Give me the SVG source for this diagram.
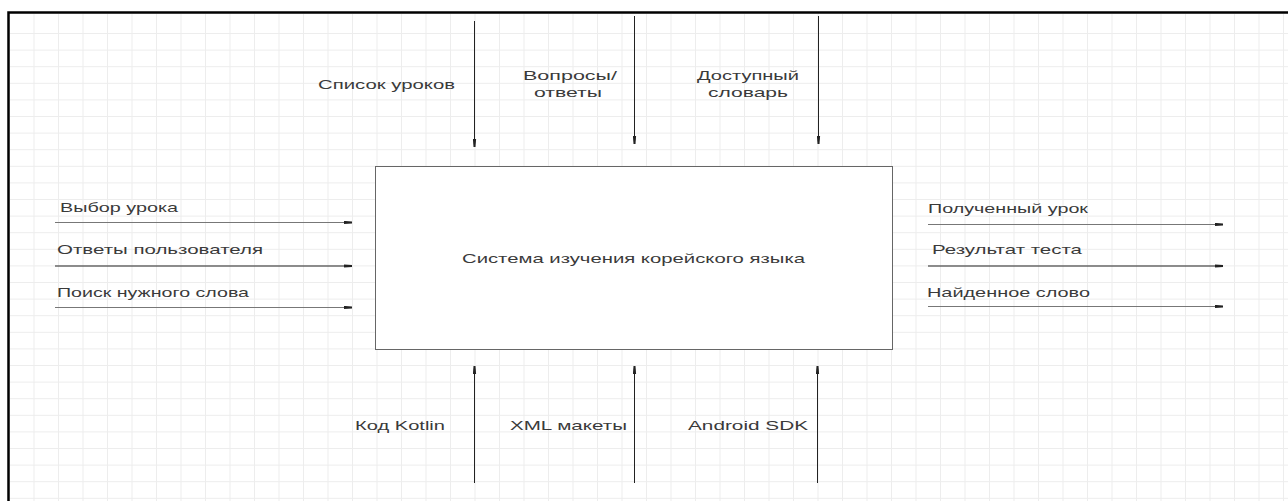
<svg xmlns="http://www.w3.org/2000/svg" width="1288" height="501" viewBox="0 0 1288 501">
  <style>
    .grid { stroke: #ededed; stroke-width: 1; fill: none; }
    .frame { stroke: #000; stroke-width: 2.5; fill: none; }
    .box { fill: #fff; stroke: #666; stroke-width: 1; }
    .arr { stroke: #222; stroke-width: 1; fill: none; marker-end: url(#ah); }
    .arr-l { stroke: #777; stroke-width: 1; fill: none; marker-end: url(#ah); }
    .lbl { font-family: "Liberation Sans", Arial, sans-serif; font-size: 13.5px; fill: #3a3a3a; }
  </style>
  <defs>
    <marker id="ah" viewBox="0 0 8 4" refX="8" refY="2" markerWidth="8" markerHeight="4" markerUnits="userSpaceOnUse" orient="auto">
      <path d="M0,0.4 L8,1 L8,3 L0,3.6 z" fill="#222"/>
    </marker>
  </defs>
  <rect x="0" y="0" width="1288" height="501" fill="#fff"/>
  <g id="grid">
    <path class="grid" d="M34 14V501M58.5 14V501M83 14V501M107.5 14V501M132 14V501M156.5 14V501M181 14V501M205.5 14V501M230 14V501M254.5 14V501M279 14V501M303.5 14V501M328 14V501M352.5 14V501M377 14V501M401.5 14V501M426 14V501M450.5 14V501M475 14V501M499.5 14V501M524 14V501M548.5 14V501M573 14V501M597.5 14V501M622 14V501M646.5 14V501M671 14V501M695.5 14V501M720 14V501M744.5 14V501M769 14V501M793.5 14V501M818 14V501M842.5 14V501M867 14V501M891.5 14V501M916 14V501M940.5 14V501M965 14V501M989.5 14V501M1014 14V501M1038.5 14V501M1063 14V501M1087.5 14V501M1112 14V501M1136.5 14V501M1161 14V501M1185.5 14V501M1210 14V501M1234.5 14V501M1259 14V501M1283.5 14V501"/>
    <path class="grid" d="M10 33.5H1288M10 50.1H1288M10 66.7H1288M10 83.3H1288M10 99.9H1288M10 116.5H1288M10 133.1H1288M10 149.7H1288M10 166.3H1288M10 182.9H1288M10 199.5H1288M10 216.1H1288M10 232.7H1288M10 249.3H1288M10 265.9H1288M10 282.5H1288M10 299.1H1288M10 315.7H1288M10 332.3H1288M10 348.9H1288M10 365.5H1288M10 382.1H1288M10 398.7H1288M10 415.3H1288M10 431.9H1288M10 448.5H1288M10 465.1H1288M10 481.7H1288M10 498.3H1288"/>
  </g>
  <g id="frame">
    <path class="frame" d="M8.5 501V12.5H1288"/>
  </g>
  <g id="node-system">
    <rect class="box" x="375.5" y="166.5" width="517" height="183"/>
    <text class="lbl" x="462" y="263" textLength="343" lengthAdjust="spacingAndGlyphs">Система изучения корейского языка</text>
  </g>
  <g id="connectors">
    <path class="arr" d="M474.5 21V147"/>
    <path class="arr" d="M634.5 16V144"/>
    <path class="arr" d="M818.5 16V144"/>
    <path class="arr" d="M474.5 483V366"/>
    <path class="arr" d="M634.5 483V366"/>
    <path class="arr" d="M817.5 483V366"/>
    <path class="arr-l" d="M55 222.5H352"/>
    <path class="arr" d="M55 266H352"/>
    <path class="arr-l" d="M55 307.5H352"/>
    <path class="arr-l" d="M928 224.5H1223"/>
    <path class="arr" d="M928 266H1223"/>
    <path class="arr-l" d="M928 306.5H1223"/>
  </g>
  <g id="labels">
    <text class="lbl" x="318" y="89" textLength="137" lengthAdjust="spacingAndGlyphs">Список уроков</text>
    <text class="lbl" x="523" y="80" textLength="94" lengthAdjust="spacingAndGlyphs">Вопросы/</text>
    <text class="lbl" x="534" y="97" textLength="68" lengthAdjust="spacingAndGlyphs">ответы</text>
    <text class="lbl" x="697" y="80" textLength="102" lengthAdjust="spacingAndGlyphs">Доступный</text>
    <text class="lbl" x="708" y="97" textLength="80" lengthAdjust="spacingAndGlyphs">словарь</text>
    <text class="lbl" x="60" y="212" textLength="118" lengthAdjust="spacingAndGlyphs">Выбор урока</text>
    <text class="lbl" x="57" y="254" textLength="206" lengthAdjust="spacingAndGlyphs">Ответы пользователя</text>
    <text class="lbl" x="57" y="297" textLength="192" lengthAdjust="spacingAndGlyphs">Поиск нужного слова</text>
    <text class="lbl" x="928" y="213" textLength="160" lengthAdjust="spacingAndGlyphs">Полученный урок</text>
    <text class="lbl" x="932" y="254" textLength="150" lengthAdjust="spacingAndGlyphs">Результат теста</text>
    <text class="lbl" x="927" y="297" textLength="163" lengthAdjust="spacingAndGlyphs">Найденное слово</text>
    <text class="lbl" x="355" y="430" textLength="90" lengthAdjust="spacingAndGlyphs">Код Kotlin</text>
    <text class="lbl" x="510" y="430" textLength="117" lengthAdjust="spacingAndGlyphs">XML макеты</text>
    <text class="lbl" x="688" y="430" textLength="120" lengthAdjust="spacingAndGlyphs">Android SDK</text>
  </g>
</svg>
